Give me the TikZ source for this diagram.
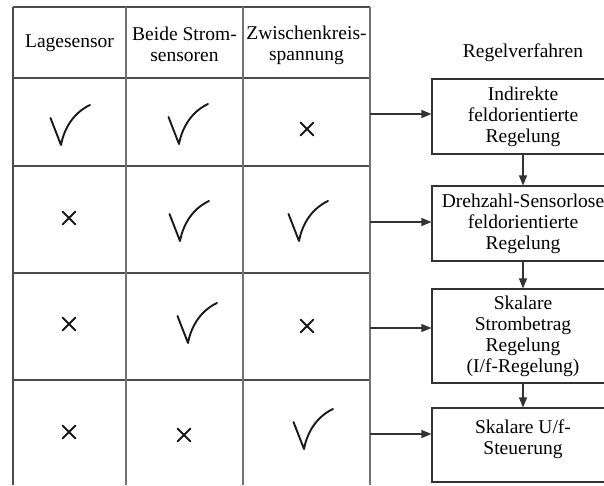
\documentclass[tikz,border=0pt]{standalone}
\usepackage{fontspec}
\setmainfont{Liberation Serif}
\usetikzlibrary{arrows.meta}
\begin{document}
\begin{tikzpicture}[x=1pt,y=-1pt,
  grid/.style={draw=black!70,line width=1.1pt},
  gridv/.style={draw=black!55,line width=1.1pt},
  txt/.style={font=\fontsize{19.5}{21}\selectfont,align=center,inner sep=0pt},
  box/.style={draw=black!80,line width=1.1pt,minimum width=182pt,inner sep=0pt},
  arr/.style={draw=black!80,line width=1.1pt,-{Triangle[length=10pt,width=8pt]}},
  pen/.style={draw=black!90,line width=1.9pt,line cap=round,line join=round},
  chk/.pic={\draw[pen] (-10.5,-27) -- (0,0) .. controls (3,-16) and (12,-32) .. (29,-40);},
  crs/.pic={\draw[pen] (-6.5,-6.5) -- (6.5,6.5) (-6.5,6.5) -- (6.5,-6.5);}]
\useasboundingbox (0,0) rectangle (604,485);
\fill[white] (0,0) rectangle (604,485);

% table rules
\foreach \yy in {7,78,166,273,380} \draw[grid] (13,\yy) -- (370,\yy);
\draw[grid] (13,7) -- (13,485);
\draw[gridv] (126,7) -- (126,485);
\draw[gridv] (243,7) -- (243,485);
\draw[gridv] (370,7) -- (370,485);

% header
\node[txt] (h1) at (69.5,43) {Lagesensor};
\node[txt] (h2) at (184.5,44) {Beide Strom-\\sensoren};
\node[txt] (h3) at (306.5,45) {Zwischenkreis-\\spannung};
\node[txt] (h4) at (523,53) {Regelverfahren};

% row 1
\pic at (61,145) {chk};
\pic at (179,144) {chk};
\pic at (307,129) {crs};
% row 2
\pic at (69,218) {crs};
\pic at (180,241) {chk};
\pic at (299,241) {chk};
% row 3
\pic at (69,324) {crs};
\pic at (188,343) {chk};
\pic at (307,326) {crs};
% row 4
\pic at (69,432) {crs};
\pic at (184,435) {crs};
\pic at (304,449) {chk};

% control methods
\node[box,minimum height=75pt] (b1) at (523,116.5) {};
\node[txt] (t1) at (b1.center) {Indirekte\\feldorientierte\\Regelung};
\node[box,minimum height=75pt] (b2) at (523,223.5) {};
\node[txt] (t2) at (b2.center) {Drehzahl-Sensorlose\\feldorientierte\\Regelung};
\node[box,minimum height=94pt] (b3) at (523,336) {};
\node[txt] (t3) at (b3.center) {Skalare\\Strombetrag\\Regelung\\(I/f-Regelung)};
\node[box,minimum height=74pt] (b4) at (523,445) {};
\node[txt] (t4) at (523,439) {Skalare U/f-\\Steuerung};

% arrows from the table rows
\coordinate (r1) at (370,114);
\coordinate (r2) at (370,222);
\coordinate (r3) at (370,328);
\coordinate (r4) at (370,434);
\draw[arr] (r1) -- (r1 -| b1.west);
\draw[arr] (r2) -- (r2 -| b2.west);
\draw[arr] (r3) -- (r3 -| b3.west);
\draw[arr] (r4) -- (r4 -| b4.west);

% chain of methods
\draw[arr] (b1.south) -- (b2.north);
\draw[arr] (b2.south) -- (b3.north);
\draw[arr] (b3.south) -- (b4.north);
\end{tikzpicture}
\end{document}
